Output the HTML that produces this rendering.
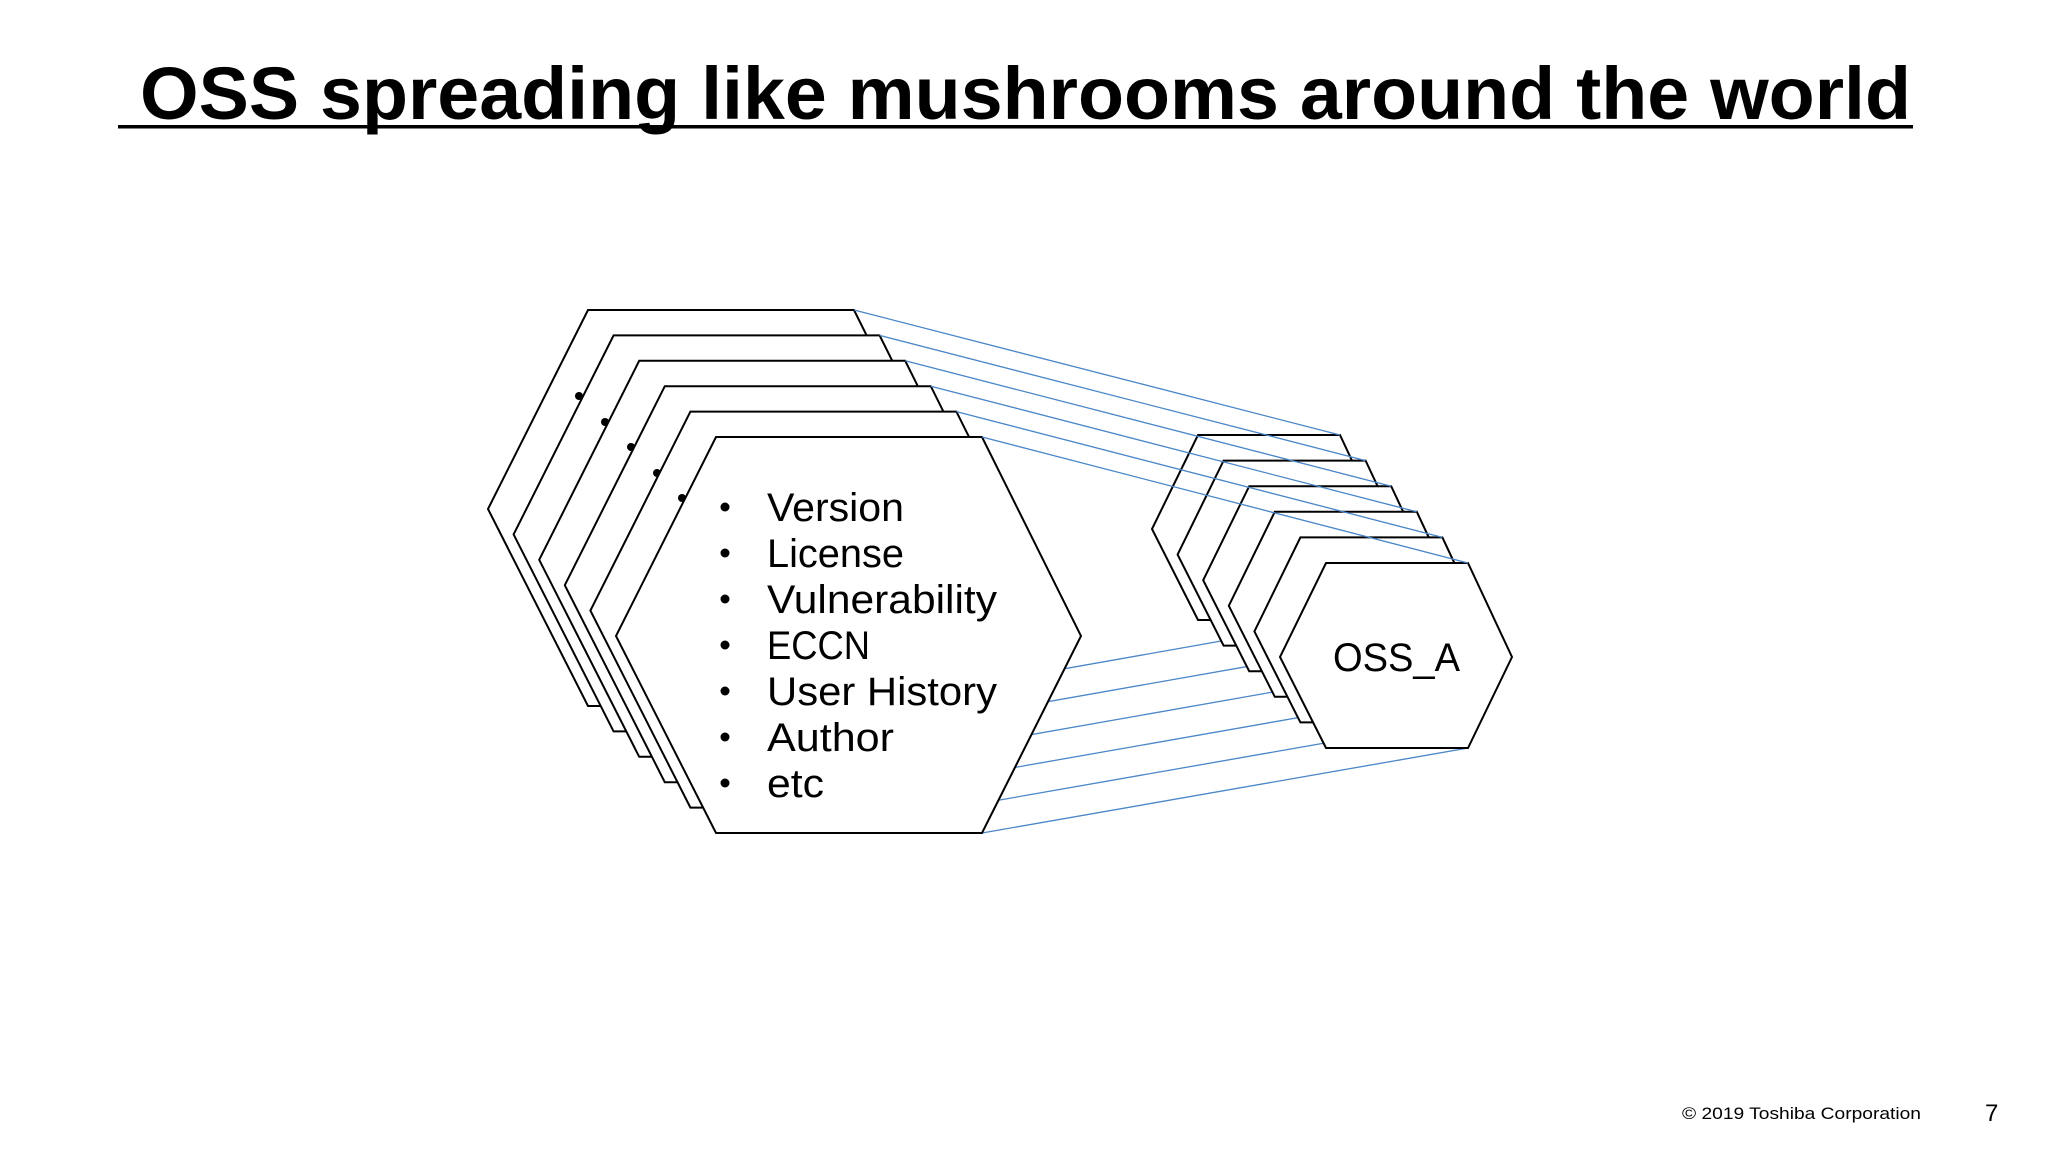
<!DOCTYPE html>
<html><head><meta charset="utf-8"><style>
html,body{margin:0;padding:0;background:#fff;}
svg{display:block;}
</style></head><body>
<svg width="2048" height="1152" viewBox="0 0 2048 1152" xmlns="http://www.w3.org/2000/svg" font-family="'Liberation Sans', sans-serif">
<rect width="2048" height="1152" fill="#fff"/>
<text x="140" y="119" font-size="74" font-weight="bold" textLength="1771" lengthAdjust="spacingAndGlyphs">OSS spreading like mushrooms around the world</text>
<rect x="118" y="125" width="1795" height="3.5" fill="#000"/>

<g stroke="#4a86c8" stroke-width="1.3" fill="none">
<line x1="854" y1="706" x2="1340" y2="620"/>
<line x1="879.6" y1="731.4" x2="1365.6" y2="645.6"/>
<line x1="905.2" y1="756.8" x2="1391.2" y2="671.2"/>
<line x1="930.8" y1="782.2" x2="1416.8" y2="696.8"/>
<line x1="956.4" y1="807.6" x2="1442.4" y2="722.4"/>
<line x1="982" y1="833" x2="1468" y2="748"/>
</g>

<defs>
<polygon id="bh" points="616,636 716,437 982,437 1081,636 982,833 716,833" fill="#fff" stroke="#000" stroke-width="2"/>
<polygon id="sh" points="1280,657 1326,563 1468,563 1512,657 1468,748 1326,748" fill="#fff" stroke="#000" stroke-width="2"/>
</defs>

<use href="#bh" transform="translate(-128,-127)"/>
<circle cx="579" cy="396" r="4"/>
<use href="#bh" transform="translate(-102.4,-101.6)"/>
<circle cx="605" cy="422" r="4"/>
<use href="#bh" transform="translate(-76.8,-76.2)"/>
<circle cx="631" cy="447" r="4"/>
<use href="#bh" transform="translate(-51.2,-50.8)"/>
<circle cx="657" cy="473" r="4"/>
<use href="#bh" transform="translate(-25.6,-25.4)"/>
<circle cx="682" cy="498" r="4"/>
<use href="#bh"/>

<use href="#sh" transform="translate(-128,-128)"/>
<use href="#sh" transform="translate(-102.4,-102.4)"/>
<use href="#sh" transform="translate(-76.8,-76.8)"/>
<use href="#sh" transform="translate(-51.2,-51.2)"/>
<use href="#sh" transform="translate(-25.6,-25.6)"/>
<use href="#sh"/>

<g stroke="#4a86c8" stroke-width="1.3" fill="none">
<line x1="854" y1="310" x2="1340" y2="435"/>
<line x1="879.6" y1="335.4" x2="1365.6" y2="460.6"/>
<line x1="905.2" y1="360.8" x2="1391.2" y2="486.2"/>
<line x1="930.8" y1="386.2" x2="1416.8" y2="511.8"/>
<line x1="956.4" y1="411.6" x2="1442.4" y2="537.4"/>
<line x1="982" y1="437" x2="1468" y2="563"/>
</g>

<g font-size="40">
<g fill="#000">
<circle cx="725" cy="507" r="4.5"/><circle cx="725" cy="553" r="4.5"/><circle cx="725" cy="599" r="4.5"/><circle cx="725" cy="645" r="4.5"/><circle cx="725" cy="691" r="4.5"/><circle cx="725" cy="737" r="4.5"/><circle cx="725" cy="783" r="4.5"/>
</g>
<text x="767" y="521" textLength="137" lengthAdjust="spacingAndGlyphs">Version</text>
<text x="767" y="567" textLength="137" lengthAdjust="spacingAndGlyphs">License</text>
<text x="767" y="613" textLength="230" lengthAdjust="spacingAndGlyphs">Vulnerability</text>
<text x="767" y="659" textLength="103" lengthAdjust="spacingAndGlyphs">ECCN</text>
<text x="767" y="705" textLength="230" lengthAdjust="spacingAndGlyphs">User History</text>
<text x="767" y="751" textLength="127" lengthAdjust="spacingAndGlyphs">Author</text>
<text x="767" y="797" textLength="57" lengthAdjust="spacingAndGlyphs">etc</text>
</g>
<text x="1333" y="671" font-size="40" textLength="127" lengthAdjust="spacingAndGlyphs">OSS_A</text>

<text x="1682" y="1119" font-size="17" textLength="239" lengthAdjust="spacingAndGlyphs">© 2019 Toshiba Corporation</text>
<text x="1985" y="1121" font-size="24">7</text>
</svg>
</body></html>
